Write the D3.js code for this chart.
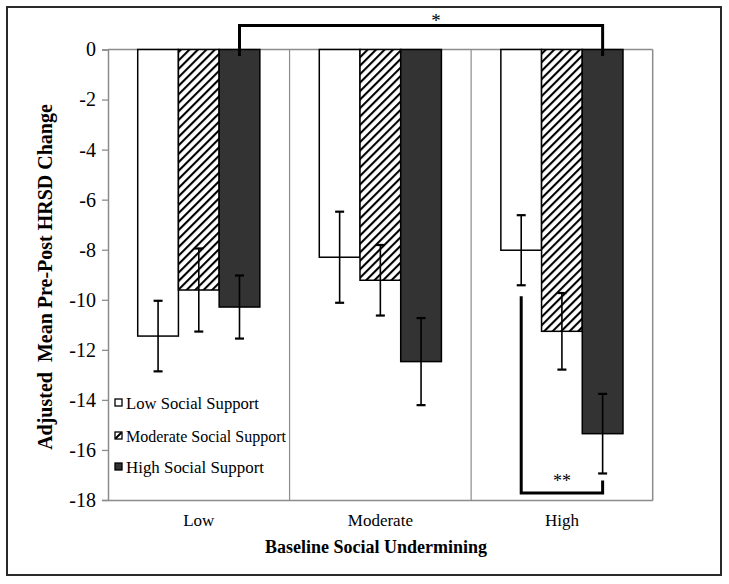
<!DOCTYPE html>
<html>
<head>
<meta charset="utf-8">
<script src="https://cdn.jsdelivr.net/npm/d3@7/dist/d3.min.js"></script>
<style>
  body { margin: 0; background: #fff; }
  svg { display: block; }
  text { font-family: "Liberation Serif", "Times New Roman", Times, serif; fill: #000; }
</style>
</head>
<body>
<svg id="chart" width="729" height="584"></svg>
<script>
// ---- Data ----
const categories = ["Low", "Moderate", "High"];
const seriesNames = ["Low Social Support", "Moderate Social Support", "High Social Support"];
const lowSupport = [-11.45, -8.30, -8.02];
const moderateSupport = [-9.61, -9.22, -11.26];
const highSupport = [-10.29, -12.47, -15.35];
const lowSupportErr = [1.41, 1.82, 1.40];
const moderateSupportErr = [1.66, 1.41, 1.53];
const highSupportErr = [1.26, 1.74, 1.59];
const yTicks = [0, -2, -4, -6, -8, -10, -12, -14, -16, -18];
const yTitle = "Adjusted  Mean Pre-Post HRSD Change";
const xTitle = "Baseline Social Undermining";

(function () {
const seriesValues = [lowSupport, moderateSupport, highSupport];
const seriesErrs = [lowSupportErr, moderateSupportErr, highSupportErr];

const svg = d3.select("#chart");
const pLeft = 108, pRight = 652.7, pTop = 49.5, pBottom = 500;
const serif = '"Liberation Serif", "Times New Roman", Times, serif';

// outer frame
svg.append("rect").attr("x", 7).attr("y", 7).attr("width", 714).attr("height", 568)
  .attr("fill", "#fff").attr("stroke", "#2a2a2a").attr("stroke-width", 2);

// hatch pattern
const defs = svg.append("defs");
const pat = defs.append("pattern").attr("id", "hatch").attr("patternUnits", "userSpaceOnUse")
  .attr("width", 6).attr("height", 6).attr("patternTransform", "rotate(45)");
pat.append("rect").attr("width", 6).attr("height", 6).attr("fill", "#fff");
pat.append("line").attr("x1", 0).attr("y1", 0).attr("x2", 0).attr("y2", 6)
  .attr("stroke", "#000").attr("stroke-width", 4.2);

const x = d3.scaleBand().domain(categories).range([pLeft, pRight]).padding(0);
const xs = d3.scaleBand().domain(seriesNames).range([0, x.bandwidth()]).paddingInner(0).paddingOuter(0.73);
const y = d3.scaleLinear().domain([-18, 0]).range([pBottom, pTop]);

const fills = ["#fff", "url(#hatch)", "#333"];

// plot frame and separators (gray)
const gray = "#8c8c8c";
svg.append("line").attr("x1", pLeft).attr("x2", pRight).attr("y1", y(0)).attr("y2", y(0)).attr("stroke", gray).attr("stroke-width", 1.5);
svg.append("line").attr("x1", pRight).attr("x2", pRight).attr("y1", y(0)).attr("y2", y(-18)).attr("stroke", gray).attr("stroke-width", 1.5);
categories.slice(1).forEach(c => {
  svg.append("line").attr("x1", x(c)).attr("x2", x(c)).attr("y1", y(0)).attr("y2", y(-18))
    .attr("stroke", gray).attr("stroke-width", 1.2);
});

// y axis
const yAxis = d3.axisLeft(y).tickValues(yTicks).tickSize(6).tickPadding(6).tickFormat(d3.format("d"));
const gy = svg.append("g").attr("transform", `translate(${pLeft},0)`).call(yAxis);
gy.attr("font-family", null);
gy.select(".domain").attr("stroke", gray).attr("stroke-width", 1.5);
gy.selectAll(".tick line").attr("stroke", gray).attr("stroke-width", 1.3);
gy.selectAll(".tick text").style("font-family", serif).style("font-size", "20px").attr("fill", "#000")
  .text(d => d === 0 ? "0" : "-" + Math.abs(d));

// x axis
const xAxis = d3.axisBottom(x).tickSize(0).tickPadding(14);
const gx = svg.append("g").attr("transform", `translate(0,${pBottom})`).call(xAxis);
gx.attr("font-family", null);
gx.select(".domain").attr("stroke", gray).attr("stroke-width", 1.5);
gx.selectAll(".tick text").style("font-family", serif).style("font-size", "17px").attr("fill", "#000");

// bars
seriesNames.forEach((s, si) => {
  const g = svg.append("g");
  g.selectAll("rect").data(categories).enter().append("rect")
    .attr("x", c => x(c) + xs(s))
    .attr("width", xs.bandwidth())
    .attr("y", y(0))
    .attr("height", (c, i) => y(seriesValues[si][i]) - y(0))
    .attr("fill", fills[si])
    .attr("stroke", "#000").attr("stroke-width", 1.5);
});

// error bars
seriesNames.forEach((s, si) => {
  categories.forEach((c, i) => {
    const cx = x(c) + xs(s) + xs.bandwidth() / 2;
    const v = seriesValues[si][i], e = seriesErrs[si][i];
    const g = svg.append("g").attr("stroke", "#000").attr("stroke-width", 1.6);
    g.append("line").attr("x1", cx).attr("x2", cx).attr("y1", y(v + e)).attr("y2", y(v - e));
    g.append("line").attr("x1", cx - 4.5).attr("x2", cx + 4.5).attr("y1", y(v + e)).attr("y2", y(v + e)).attr("stroke-width", 2.2);
    g.append("line").attr("x1", cx - 4.5).attr("x2", cx + 4.5).attr("y1", y(v - e)).attr("y2", y(v - e)).attr("stroke-width", 2.2);
  });
});

// significance brackets
const cxOf = (c, s) => x(c) + xs(s) + xs.bandwidth() / 2;
const bx1 = cxOf("Low", seriesNames[2]), bx2 = cxOf("High", seriesNames[2]);
svg.append("path")
  .attr("d", `M${bx1},${y(0) + 6.5} V${y(0) - 24} H${bx2} V${y(0) + 6.5}`)
  .attr("fill", "none").attr("stroke", "#000").attr("stroke-width", 3);
svg.append("text").attr("x", (bx1 + bx2) / 2 + 15).attr("y", 27).attr("text-anchor", "middle")
  .style("font-size", "19px").attr("fill", "#000").text("*");

const hx1 = cxOf("High", seriesNames[0]), hx2 = cxOf("High", seriesNames[2]);
const hv1 = y(lowSupport[2] - lowSupportErr[2]) + 11;
const hv2 = y(highSupport[2] - highSupportErr[2]) + 7;
const hb = 493;
svg.append("path")
  .attr("d", `M${hx1},${hv1} V${hb} H${hx2} V${hv2}`)
  .attr("fill", "none").attr("stroke", "#000").attr("stroke-width", 3);
svg.append("text").attr("x", (hx1 + hx2) / 2).attr("y", 487).attr("text-anchor", "middle")
  .style("font-size", "18px").attr("fill", "#000").text("**");

// legend
const legY = [402.5, 435.5, 466.5];
seriesNames.forEach((s, i) => {
  svg.append("rect").attr("x", 115).attr("y", legY[i] - 3.5).attr("width", 7).attr("height", 7)
    .attr("fill", i === 1 ? "#fff" : fills[i]).attr("stroke", "#000").attr("stroke-width", 1.3);
  if (i === 1) {
    svg.append("line").attr("x1", 115.5).attr("y1", legY[i] + 3).attr("x2", 121.5).attr("y2", legY[i] - 3)
      .attr("stroke", "#000").attr("stroke-width", 2);
  }
  svg.append("text").attr("x", 126).attr("y", legY[i] + 6).style("font-size", "17px")
    .attr("textLength", i === 0 ? 133 : (i === 1 ? 160 : 138)).attr("lengthAdjust", "spacingAndGlyphs").text(s);
});

// axis titles
svg.append("text").attr("transform", "translate(52,277) rotate(-90)").attr("text-anchor", "middle")
  .style("font-size", "20px").style("font-weight", "bold").style("white-space", "pre").text(yTitle);
svg.append("text").attr("x", 376).attr("y", 553).attr("text-anchor", "middle")
  .style("font-size", "18px").style("font-weight", "bold").text(xTitle);
})();
</script>
</body>
</html>
